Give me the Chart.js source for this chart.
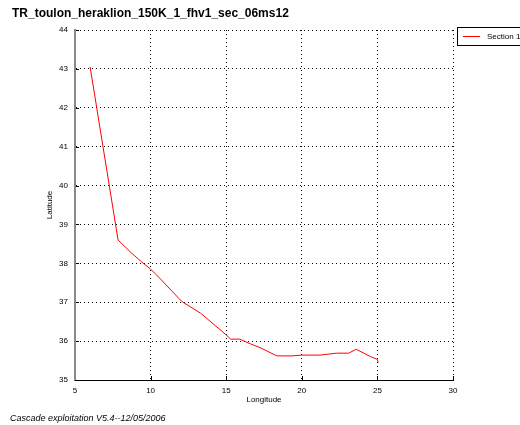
<!DOCTYPE html>
<html>
<head>
<meta charset="utf-8">
<style>
  html, body { margin: 0; padding: 0; background: #fff; }
  #wrap { position: relative; width: 520px; height: 425px; }
</style>
<script src="https://cdn.jsdelivr.net/npm/chart.js@4.4.1/dist/chart.umd.min.js"></script>
</head>
<body>
<div id="wrap"><canvas id="grafico" width="520" height="425"></canvas></div>
<script>
// section track: longitude / latitude
const longitudine = [6.0, 7.85, 8.75, 9.4, 10.0, 10.4, 12.06, 13.3, 15.0, 15.3, 15.9, 16.6, 17.25, 18.35, 19.35, 20.0, 21.2, 22.3, 23.1, 23.6, 24.55, 25.0, 25.05];
const latitudine  = [43.05, 38.6, 38.26, 38.04, 37.85, 37.7, 37.02, 36.72, 36.16, 36.05, 36.05, 35.93, 35.83, 35.62, 35.62, 35.64, 35.64, 35.69, 35.69, 35.79, 35.6, 35.53, 35.45];
const xTicks = [5, 10, 15, 20, 25, 30];
const yTicks = [35, 36, 37, 38, 39, 40, 41, 42, 43, 44];

const titolo = 'TR_toulon_heraklion_150K_1_fhv1_sec_06ms12';
const piede = 'Cascade exploitation V5.4--12/05/2006';
const nomeSerie = 'Section 1';
const titoloX = 'Longitude';
const titoloY = 'Latitude';

const punti = longitudine.map((x, i) => ({ x: x, y: latitudine[i] }));

// title, axis titles, legend box and footer
const extra = {
  id: 'extra',
  afterDraw(chart) {
    const ctx = chart.ctx;
    const a = chart.chartArea;
    ctx.save();
    ctx.fillStyle = '#000';
    ctx.font = 'bold 12px Arial, "Liberation Sans", sans-serif';
    ctx.textBaseline = 'middle';
    ctx.fillText(titolo, 12, 14);

    ctx.font = 'italic 9px Arial, "Liberation Sans", sans-serif';
    ctx.fillText(piede, 10, 418);

    // axis titles
    ctx.font = '8px Arial, "Liberation Sans", sans-serif';
    ctx.textAlign = 'center';
    ctx.fillText(titoloX, (a.left + a.right) / 2, 400);
    ctx.save();
    ctx.translate(50, (a.top + a.bottom) / 2);
    ctx.rotate(-Math.PI / 2);
    ctx.fillText(titoloY, 0, 0);
    ctx.restore();

    // legend
    ctx.textAlign = 'left';
    ctx.strokeStyle = '#000';
    ctx.lineWidth = 1;
    ctx.strokeRect(457.5, 27.5, 70, 18);
    ctx.strokeStyle = '#ff0000';
    ctx.beginPath();
    ctx.moveTo(463, 36.5);
    ctx.lineTo(480, 36.5);
    ctx.stroke();
    ctx.fillStyle = '#000';
    ctx.fillText(nomeSerie, 487, 36.5);
    ctx.restore();
  }
};

// solid axes on left and bottom, over the dotted grid, with short inner ticks
const assi = {
  id: 'assi',
  beforeDatasetsDraw(chart) {
    const { ctx, chartArea: a, scales } = chart;
    ctx.save();
    ctx.strokeStyle = '#000';
    ctx.lineWidth = 1;
    ctx.beginPath();
    ctx.moveTo(a.left, a.bottom + 0.5);
    ctx.lineTo(a.right, a.bottom + 0.5);
    xTicks.forEach(v => {
      const px = Math.round(scales.x.getPixelForValue(v)) + 0.5;
      ctx.moveTo(px, a.bottom);
      ctx.lineTo(px, a.bottom - 4);
    });
    yTicks.forEach(v => {
      const py = Math.round(scales.y.getPixelForValue(v)) + 0.5;
      ctx.moveTo(a.left, py);
      ctx.lineTo(a.left + 4, py);
    });
    ctx.stroke();
    ctx.strokeStyle = '#888';
    ctx.lineWidth = 2;
    ctx.beginPath();
    ctx.moveTo(a.left, a.top);
    ctx.lineTo(a.left, a.bottom);
    ctx.stroke();
    ctx.restore();
  }
};

const griglia = {
  color: '#000',
  lineWidth: 1,
  drawTicks: false
};

new Chart(document.getElementById('grafico'), {
  type: 'scatter',
  data: {
    datasets: [{
      label: nomeSerie,
      data: punti,
      showLine: true,
      borderColor: '#ff0000',
      borderWidth: 1,
      pointRadius: 0,
      tension: 0
    }]
  },
  options: {
    responsive: false,
    animation: false,
    layout: { padding: { top: 30, right: 67, left: 0, bottom: 0 } },
    plugins: {
      legend: { display: false },
      title: { display: false },
      tooltip: { enabled: false }
    },
    scales: {
      x: {
        type: 'linear',
        min: 5,
        max: 30,
        afterBuildTicks: s => { s.ticks = xTicks.map(v => ({ value: v })); },
        afterFit: s => { s.height = 45; },
        grid: griglia,
        border: { display: true, color: '#000', width: 1, dash: [1, 3] },
        ticks: { color: '#000', padding: 6, font: { size: 8, family: 'Arial' } }
      },
      y: {
        type: 'linear',
        min: 35,
        max: 44,
        afterBuildTicks: s => { s.ticks = yTicks.map(v => ({ value: v })); },
        afterFit: s => { s.width = 75; },
        grid: griglia,
        border: { display: true, color: '#888', width: 2, dash: [1, 3] },
        ticks: { color: '#000', padding: 7, font: { size: 8, family: 'Arial' } }
      }
    }
  },
  plugins: [extra, assi]
});
</script>
</body>
</html>
